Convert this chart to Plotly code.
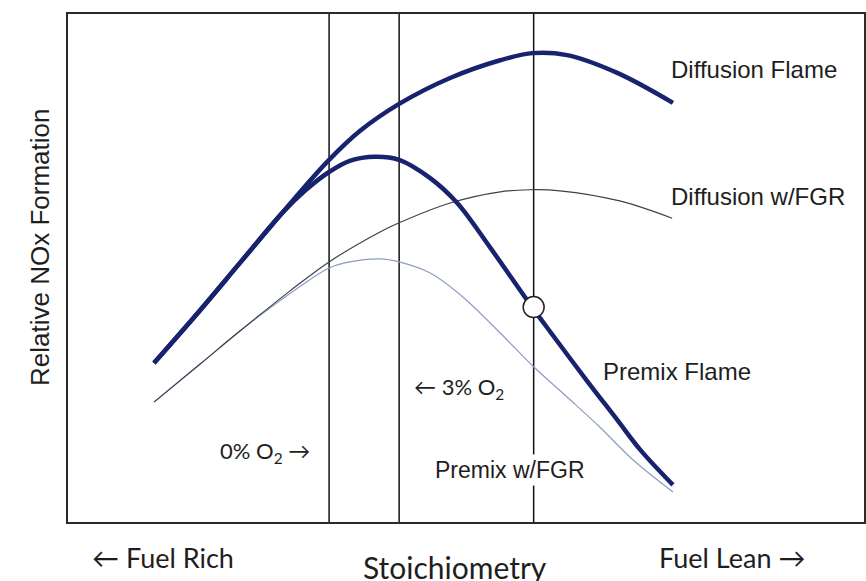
import plotly.graph_objects as go

# ---- data (relative units: x 0-100 toward fuel lean, y 0-100 relative NOx) ----
diff_x = [10.8, 16.6, 21.6, 27.0, 29.9, 32.8, 36.7, 41.6, 48.0, 54.3, 58.4, 62.7, 69.0, 76.0]
diff_y = [31.3, 41.7, 51.0, 61.0, 66.3, 71.3, 77.0, 82.3, 87.4, 90.9, 92.3, 91.9, 88.4, 82.5]

premix_x = [10.8, 16.6, 21.6, 27.0, 29.9, 32.8, 35.4, 38.6, 41.6, 45.5, 48.9, 53.0, 58.3, 60.6, 65.2, 69.0, 71.9, 76.0]
premix_y = [31.3, 41.7, 51.0, 61.0, 65.4, 68.9, 71.1, 71.9, 71.3, 67.7, 62.8, 54.1, 42.3, 37.4, 27.8, 20.1, 14.2, 7.3]

dfgr_x = [10.8, 16.6, 21.6, 27.9, 32.8, 39.2, 41.6, 48.0, 54.3, 58.0, 61.8, 69.3, 75.9]
dfgr_y = [23.6, 31.1, 37.6, 45.5, 51.2, 57.1, 58.9, 62.8, 65.0, 65.4, 65.2, 63.2, 59.8]

pfgr_x = [10.8, 16.6, 21.6, 29.1, 32.8, 35.4, 39.2, 41.6, 45.5, 49.6, 54.3, 58.4, 62.7, 66.8, 71.0, 76.0]
pfgr_y = [23.6, 31.1, 37.6, 46.3, 50.0, 51.2, 51.8, 51.2, 49.0, 44.3, 37.2, 30.7, 24.6, 18.7, 12.2, 5.9]

vlines_x = [32.8, 41.6, 58.5]        # 0% O2, 3% O2, reference line
marker_x = [58.5]
marker_y = [42.3]

curve_labels = ["Diffusion Flame", "Diffusion w/FGR", "Premix Flame", "Premix w/FGR"]
label_x = [75.4, 75.4, 66.8, 45.7]
label_y = [89.0, 64.0, 29.7, 10.2]

NAVY = "#17236f"

fig = go.Figure()

fig.add_trace(go.Scatter(x=pfgr_x, y=pfgr_y, mode="lines",
                         line=dict(color="#8c9cc4", width=1.2, shape="spline", smoothing=1.0),
                         name="Premix w/FGR"))
fig.add_trace(go.Scatter(x=dfgr_x, y=dfgr_y, mode="lines",
                         line=dict(color="#3c414c", width=1.2, shape="spline", smoothing=1.0),
                         name="Diffusion w/FGR"))
fig.add_trace(go.Scatter(x=diff_x, y=diff_y, mode="lines",
                         line=dict(color=NAVY, width=4.5, shape="spline", smoothing=1.0),
                         name="Diffusion Flame"))
fig.add_trace(go.Scatter(x=premix_x, y=premix_y, mode="lines",
                         line=dict(color=NAVY, width=4.5, shape="spline", smoothing=1.0),
                         name="Premix Flame"))
fig.add_trace(go.Scatter(x=marker_x, y=marker_y, mode="markers",
                         marker=dict(size=21, color="white", line=dict(color="#222222", width=1.5)),
                         name="point"))

for xv in vlines_x:
    fig.add_shape(type="line", x0=xv, x1=xv, y0=0, y1=1, xref="x", yref="paper",
                  line=dict(color="#111111", width=1.5), layer="below")

label_font = dict(family="Liberation Sans, Arial, sans-serif", size=24, color="#1e1e1e")
for i, txt in enumerate(curve_labels):
    fig.add_annotation(x=label_x[i], y=label_y[i], text=txt, showarrow=False, xanchor="left", yanchor="middle",
                       font=dict(label_font, size=23) if i == 3 else label_font,
                       bgcolor="white" if i == 3 else None, borderpad=2)

calib = dict(family="Lato, Open Sans, sans-serif", size=22, color="#1e1e1e")
fig.add_annotation(x=43.2, y=26.4, text="← 3% O<sub>2</sub>", showarrow=False, xanchor="left", yanchor="middle", font=calib)
fig.add_annotation(x=18.8, y=13.8, text="0% O<sub>2</sub> →", showarrow=False, xanchor="left", yanchor="middle", font=calib)

bottom = dict(family="Lato, Open Sans, sans-serif", size=27, color="#1e1e1e")
fig.add_annotation(x=(90 - 68) / 796, y=-0.069, xref="paper", yref="paper", text="← Fuel Rich", showarrow=False,
                   xanchor="left", yanchor="middle", font=bottom)
fig.add_annotation(x=(455 - 68) / 796, y=-0.088, xref="paper", yref="paper", text="Stoichiometry", showarrow=False,
                   xanchor="center", yanchor="middle",
                   font=dict(family="Lato, Open Sans, sans-serif", size=30, color="#1e1e1e"))
fig.add_annotation(x=(657 - 68) / 796, y=-0.069, xref="paper", yref="paper", text="Fuel Lean →", showarrow=False,
                   xanchor="left", yanchor="middle", font=bottom)
fig.add_annotation(x=(40 - 68) / 796, y=(522 - 248) / 508, xref="paper", yref="paper",
                   text="Relative NOx Formation", showarrow=False, textangle=-90,
                   xanchor="center", yanchor="middle",
                   font=dict(family="Liberation Sans, Arial, sans-serif", size=26, color="#1e1e1e"))

fig.update_layout(
    width=866, height=581,
    margin=dict(l=68, r=2, t=14, b=59),
    plot_bgcolor="white", paper_bgcolor="white",
    showlegend=False,
    xaxis=dict(range=[0, 100], showgrid=False, zeroline=False, showticklabels=False, ticks="", automargin=False,
               showline=True, mirror=True, linecolor="#2a2a2a", linewidth=2),
    yaxis=dict(range=[0, 100], showgrid=False, zeroline=False, showticklabels=False, ticks="", automargin=False,
               showline=True, mirror=True, linecolor="#2a2a2a", linewidth=2),
)

fig.write_html("out.html", config={"displayModeBar": False},
               post_script="document.body.style.margin='0';")
